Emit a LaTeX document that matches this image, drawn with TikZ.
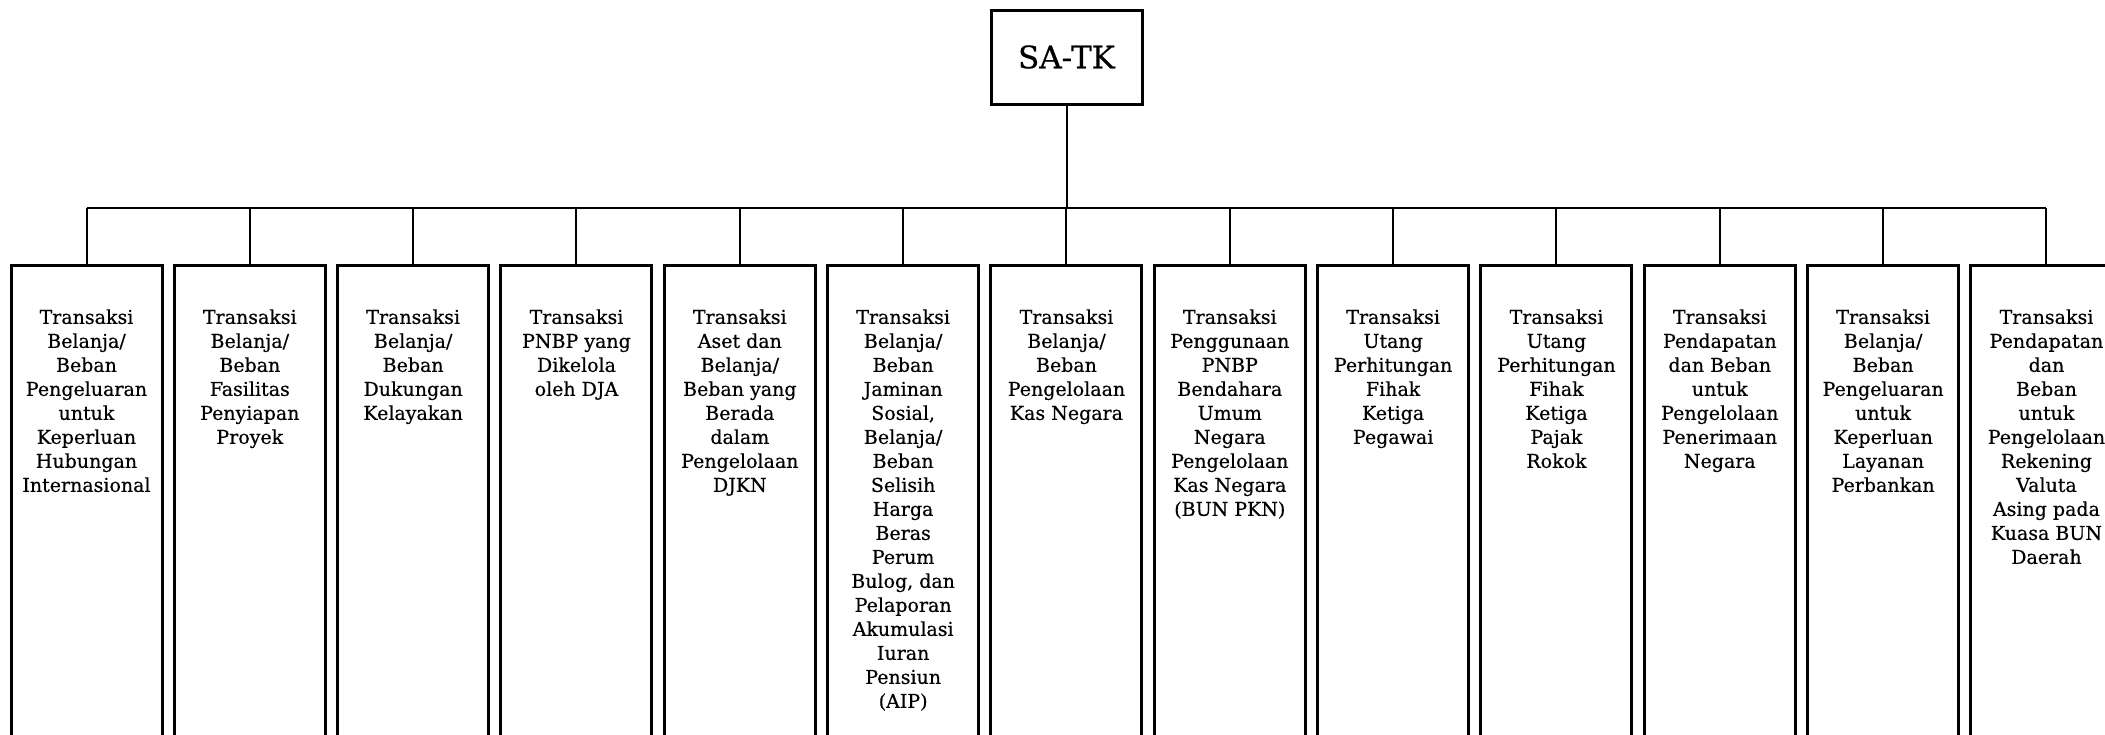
\documentclass[tikz,border=0pt]{standalone}
\usepackage{fontspec}
\setmainfont{DejaVu Serif}
\newfontfamily\heavyserif{DejaVu Serif}[FakeBold=0.5]
\begin{document}
\begin{tikzpicture}[x=0.5pt,y=-0.5pt,
  unitbox/.style={draw, line width=1.5pt, minimum width=75.5pt, minimum height=245pt, inner sep=0pt, anchor=north},
  rootbox/.style={draw, line width=1.5pt, minimum width=75.5pt, minimum height=47pt, inner sep=0pt, font=\heavyserif\fontsize{15.5}{18}\selectfont},
  unittext/.style={anchor=north, align=center, inner sep=0pt, font=\heavyserif\fontsize{9.5}{12}\selectfont},
  link/.style={line width=1pt}]
\clip (0,0) rectangle (2105,734);
% thirteen unit boxes, open towards the bottom of the page
\foreach \txt [count=\i] in {
  {Transaksi\\Belanja/\\Beban\\Pengeluaran\\untuk\\Keperluan\\Hubungan\\Internasional},
  {Transaksi\\Belanja/\\Beban\\Fasilitas\\Penyiapan\\Proyek},
  {Transaksi\\Belanja/\\Beban\\Dukungan\\Kelayakan},
  {Transaksi\\PNBP yang\\Dikelola\\oleh DJA},
  {Transaksi\\Aset dan\\Belanja/\\Beban yang\\Berada\\dalam\\Pengelolaan\\DJKN},
  {Transaksi\\Belanja/\\Beban\\Jaminan\\Sosial,\\Belanja/\\Beban\\Selisih\\Harga\\Beras\\Perum\\Bulog, dan\\Pelaporan\\Akumulasi\\Iuran\\Pensiun\\(AIP)},
  {Transaksi\\Belanja/\\Beban\\Pengelolaan\\Kas Negara},
  {Transaksi\\Penggunaan\\PNBP\\Bendahara\\Umum\\Negara\\Pengelolaan\\Kas Negara\\(BUN PKN)},
  {Transaksi\\Utang\\Perhitungan\\Fihak\\Ketiga\\Pegawai},
  {Transaksi\\Utang\\Perhitungan\\Fihak\\Ketiga\\Pajak\\Rokok},
  {Transaksi\\Pendapatan\\dan Beban\\untuk\\Pengelolaan\\Penerimaan\\Negara},
  {Transaksi\\Belanja/\\Beban\\Pengeluaran\\untuk\\Keperluan\\Layanan\\Perbankan},
  {Transaksi\\Pendapatan\\dan\\Beban\\untuk\\Pengelolaan\\Rekening\\Valuta\\Asing pada\\Kuasa BUN\\Daerah}} {
  \node[unitbox] (b\i) at ({86.5+(\i-1)*163.33},264) {};
  \node[unittext] (t\i) at ({86.5+(\i-1)*163.33},309) {\txt};
}
% root box
\node[rootbox] (root) at (1066.5,57) {SA-TK};
% tree connectors
\coordinate (bus) at (0,208);
\draw[link] (root.south) -- (root.south |- bus);
\draw[link] (b1.north |- bus) -- (b13.north |- bus);
\foreach \i in {1,...,13} \draw[link] (b\i.north) -- (b\i.north |- bus);
\end{tikzpicture}
\end{document}
